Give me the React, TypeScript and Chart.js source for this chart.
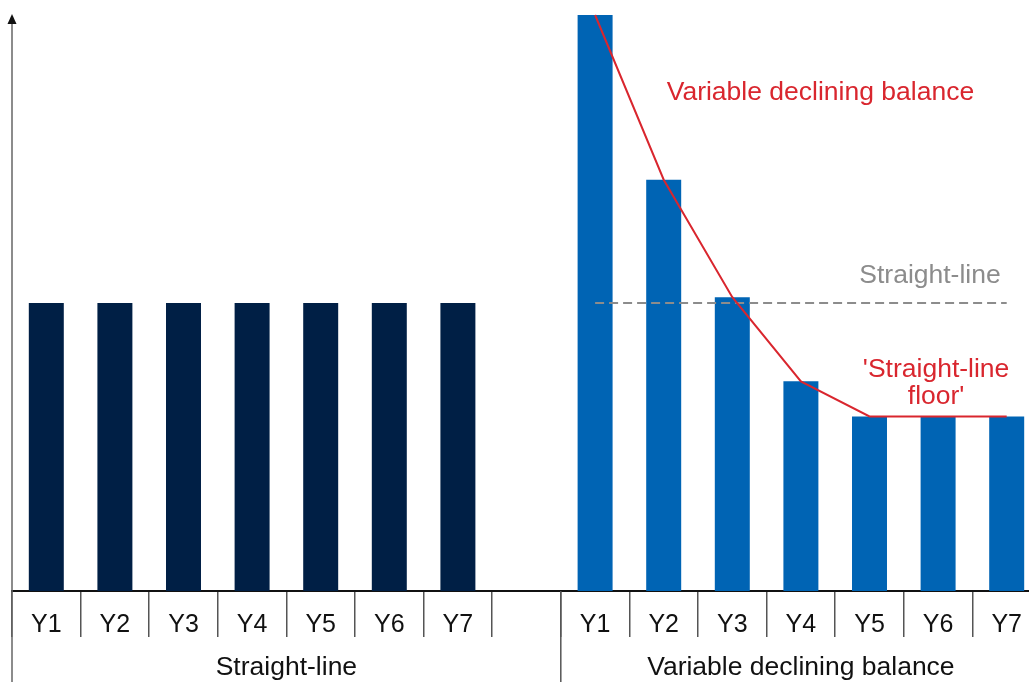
import React, { useEffect, useRef } from "react";
import { Chart, registerables } from "chart.js";

Chart.register(...registerables);

const categories = ["Y1", "Y2", "Y3", "Y4", "Y5", "Y6", "Y7", "", "Y1", "Y2", "Y3", "Y4", "Y5", "Y6", "Y7"];
const straightLineValues = [50, 50, 50, 50, 50, 50, 50];
const vdbValues = [100, 71.4, 51, 36.4, 30.3, 30.3, 30.3];
const straightLineReference = [50, 50, 50, 50, 50, 50, 50];
const groupLabels = ["Straight-line", "Variable declining balance"];

const FONT = "'Liberation Sans', Arial, Helvetica, sans-serif";
const NAVY = "#001f45";
const BLUE = "#0064b4";
const RED = "#d9262e";
const GRAY = "#8c8c8c";

const gap = [null];
const leftSlots = straightLineValues.length + gap.length;

const straightBars = [...straightLineValues, ...gap, ...vdbValues.map(() => null)];
const vdbBars = [...straightLineValues.map(() => null), ...gap, ...vdbValues];
const vdbLine = [...straightLineValues.map(() => null), ...gap, ...vdbValues];
const slDashed = [...straightLineValues.map(() => null), ...gap, ...straightLineReference];

const annotationPlugin = {
  id: "annotations",
  afterDraw(chart: any) {
    const ctx = chart.ctx;
    const area = chart.chartArea;
    const x = chart.scales.x;
    const y = chart.scales.y;
    const H = chart.height;
    const px = (i: number) => x.getPixelForValue(i);
    const py = (v: number) => y.getPixelForValue(v);
    const sep = (px(leftSlots - 1) + px(leftSlots)) / 2;

    ctx.save();
    // y axis with arrow
    ctx.strokeStyle = "#666";
    ctx.lineWidth = 1.5;
    ctx.beginPath();
    ctx.moveTo(area.left, H);
    ctx.lineTo(area.left, area.top + 8);
    ctx.stroke();
    ctx.fillStyle = "#111";
    ctx.beginPath();
    ctx.moveTo(area.left, area.top - 1);
    ctx.lineTo(area.left - 4.5, area.top + 9);
    ctx.lineTo(area.left + 4.5, area.top + 9);
    ctx.closePath();
    ctx.fill();

    // group separator
    ctx.strokeStyle = "#555";
    ctx.lineWidth = 1.5;
    ctx.beginPath();
    ctx.moveTo(sep, area.bottom);
    ctx.lineTo(sep, H);
    ctx.stroke();

    // group labels
    ctx.font = `26.5px ${FONT}`;
    ctx.fillStyle = "#111";
    ctx.textAlign = "center";
    ctx.textBaseline = "alphabetic";
    ctx.fillText(groupLabels[0], (area.left + sep) / 2, area.bottom + 84);
    ctx.fillText(groupLabels[1], (sep + area.right) / 2, area.bottom + 84);

    // annotations
    ctx.fillStyle = RED;
    ctx.textAlign = "left";
    ctx.fillText("Variable declining balance", px(leftSlots + 1) + 3, py(85.3));

    ctx.fillStyle = GRAY;
    ctx.textAlign = "right";
    ctx.fillText("Straight-line", px(leftSlots + 6) - 6, py(50) - 20);

    ctx.fillStyle = RED;
    ctx.textAlign = "center";
    ctx.fillText("'Straight-line", px(leftSlots + 5) - 2, py(30.3) - 39);
    ctx.fillText("floor'", px(leftSlots + 5) - 2, py(30.3) - 12);
    ctx.restore();
  },
};

export default function App() {
  const ref = useRef<HTMLCanvasElement | null>(null);

  useEffect(() => {
    document.documentElement.style.overflow = "hidden";
    document.body.style.margin = "0";
    document.body.style.overflow = "hidden";
    if (!ref.current) return;
    const chart = new Chart(ref.current, {
      type: "bar",
      data: {
        labels: categories,
        datasets: [
          {
            type: "line",
            data: vdbLine,
            borderColor: RED,
            borderWidth: 2,
            pointRadius: 0,
            tension: 0,
            clip: false,
            order: 0,
          } as any,
          {
            type: "line",
            data: slDashed,
            borderColor: GRAY,
            borderWidth: 2,
            borderDash: [9, 5],
            pointRadius: 0,
            order: 1,
          } as any,
          {
            data: straightBars,
            backgroundColor: NAVY,
            grouped: false,
            categoryPercentage: 1,
            barPercentage: 0.51,
            order: 2,
          } as any,
          {
            data: vdbBars,
            backgroundColor: BLUE,
            grouped: false,
            categoryPercentage: 1,
            barPercentage: 0.51,
            order: 2,
          } as any,
        ],
      },
      options: {
        animation: false,
        responsive: true,
        maintainAspectRatio: false,
        layout: { padding: { left: 12, top: 15, right: 0, bottom: 0 } },
        plugins: { legend: { display: false }, tooltip: { enabled: false } },
        scales: {
          x: {
            offset: true,
            grid: {
              offset: true,
              drawOnChartArea: false,
              drawTicks: true,
              tickLength: 46,
              color: "#555",
              lineWidth: 1.5,
            },
            border: { display: true, color: "#111", width: 2 },
            ticks: {
              autoSkip: false,
              maxRotation: 0,
              padding: -27,
              color: "#111",
              font: { family: FONT, size: 25 },
            },
            afterFit: (scale: any) => {
              scale.height = 91;
            },
          },
          y: {
            display: false,
            min: 0,
            max: 100,
          },
        },
      },
      plugins: [annotationPlugin],
    });
    return () => chart.destroy();
  }, []);

  return (
    <div style={{ width: "1029px", height: "682px", overflow: "hidden" }}>
      <div style={{ width: "1041px", height: "682px", position: "relative" }}>
        <canvas ref={ref} />
      </div>
    </div>
  );
}
